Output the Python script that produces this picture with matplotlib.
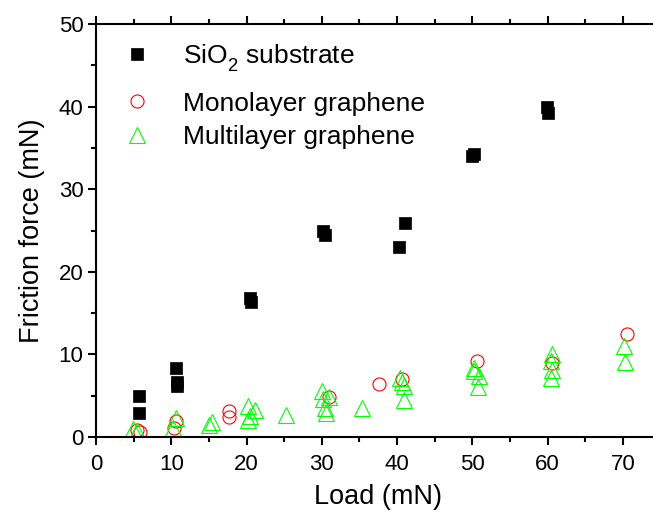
import matplotlib
matplotlib.use("Agg")
import matplotlib.pyplot as plt
from matplotlib.ticker import MultipleLocator

try:
    from matplotlib import _mathtext
    _mathtext.FontConstantsBase.sub1 = 0.6
    _mathtext.FontConstantsBase.sub2 = 0.7
except Exception:
    pass

plt.rcParams['font.family'] = ['Liberation Sans', 'DejaVu Sans']
plt.rcParams['mathtext.fontset'] = 'custom'
plt.rcParams['mathtext.rm'] = 'Liberation Sans'
plt.rcParams['mathtext.it'] = 'Liberation Sans'
plt.rcParams['mathtext.default'] = 'regular'

# Data
sio2_load = [5.7, 5.7, 10.6, 10.7, 10.7, 20.5, 20.6, 30.1, 30.4, 40.2, 41.1, 50.0, 50.2, 59.9, 60.1]
sio2_fric = [5.0, 2.9, 8.3, 6.6, 6.2, 16.8, 16.4, 24.9, 24.5, 23.0, 25.9, 34.0, 34.3, 39.9, 39.2]

mono_load = [5.5, 5.8, 10.3, 10.6, 17.7, 17.7, 30.9, 37.6, 40.7, 50.6, 60.6, 70.6]
mono_fric = [0.85, 0.6, 1.1, 1.9, 3.1, 2.4, 4.9, 6.4, 7.0, 9.2, 9.0, 12.5]

multi_load = [4.9, 5.5, 10.2, 10.6, 15.0, 15.4, 20.2, 21.1, 20.4, 20.2, 25.3, 30.0, 31.0, 30.1,
              30.4, 30.5, 35.4, 40.4, 40.6, 40.9, 40.9, 50.2, 50.2, 50.9, 50.7, 60.6, 60.5, 60.6,
              60.4, 70.1, 70.3]
multi_fric = [1.0, 0.7, 1.1, 2.3, 1.5, 1.8, 3.7, 3.3, 2.5, 2.1, 2.7, 5.6, 4.9, 4.6, 3.5, 2.9,
              3.5, 7.2, 6.6, 6.2, 4.5, 8.4, 8.0, 7.4, 6.0, 10.1, 9.2, 8.1, 7.2, 11.0, 9.1]

labels = ['SiO$_2$ substrate', 'Monolayer graphene', 'Multilayer graphene']
x_ticks = [0, 10, 20, 30, 40, 50, 60, 70]
y_ticks = [0, 10, 20, 30, 40, 50]

fig = plt.figure(figsize=(6.53, 5.14), dpi=100)
ax = fig.add_axes([96/653, 77/514, 564.6/653, 413/514])

h1, = ax.plot(sio2_load, sio2_fric, linestyle='none', marker='s', markersize=8.6,
              color='black', markeredgewidth=0.5, label=labels[0])
h2, = ax.plot(mono_load, mono_fric, linestyle='none', marker='o', markersize=9.4,
              markerfacecolor='none', markeredgecolor='#FF0000', markeredgewidth=0.8, label=labels[1])
h3, = ax.plot(multi_load, multi_fric, linestyle='none', marker='^', markersize=11,
              markerfacecolor='none', markeredgecolor='#00FF00', markeredgewidth=0.8, label=labels[2])

ax.set_xlim(0, 75)
ax.set_ylim(0, 50)
ax.set_xticks(x_ticks)
ax.set_yticks(y_ticks)
ax.xaxis.set_minor_locator(MultipleLocator(5))
ax.yaxis.set_minor_locator(MultipleLocator(5))

for s in ax.spines.values():
    s.set_linewidth(1.5)

ax.tick_params(axis='both', which='major', direction='out', length=6, width=1.5,
               labelsize=16, pad=3)
ax.tick_params(axis='both', which='minor', direction='out', length=3.5, width=1.5)
ax.tick_params(axis='x', which='major', pad=6)
ax.tick_params(axis='x', which='both', top=True)
ax.tick_params(axis='y', which='both', right=False)

ax.set_xlabel('Load (mN)', fontsize=19.5, labelpad=7)
ax.set_ylabel('Friction force (mN)', fontsize=19.5, labelpad=10)

leg_kw = dict(frameon=False, fontsize=19, handletextpad=1.0, labelspacing=0.36,
              borderpad=0.2, handlelength=1.5, loc='upper left')
leg1 = ax.legend(handles=[h1], bbox_to_anchor=(0.004, 1.0), **leg_kw)
ax.add_artist(leg1)
leg2 = ax.legend(handles=[h2, h3], bbox_to_anchor=(0.004, 0.881), **leg_kw)

fig.savefig('out.png', dpi=100)
